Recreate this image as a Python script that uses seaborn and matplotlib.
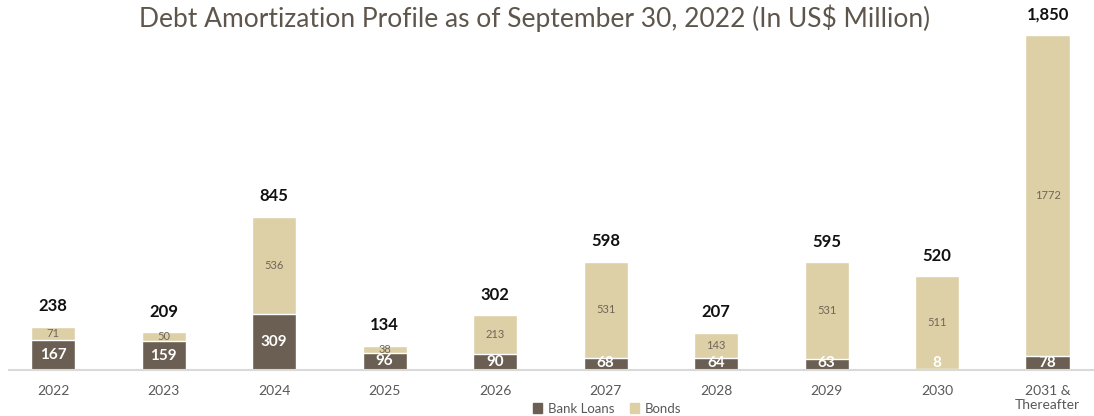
import matplotlib
matplotlib.use("Agg")
import matplotlib.pyplot as plt
import seaborn as sns
import pandas as pd
from matplotlib.patches import Patch

categories = ["2022", "2023", "2024", "2025", "2026", "2027", "2028", "2029", "2030", "2031 &\nThereafter"]
bank_loans = [167, 159, 309, 96, 90, 68, 64, 63, 8, 78]
bonds = [71, 50, 536, 38, 213, 531, 143, 531, 511, 1772]
totals = ["238", "209", "845", "134", "302", "598", "207", "595", "520", "1,850"]

DARK = "#6B5F53"
BEIGE = "#DDD0A7"

sns.set_theme(style="white")
plt.rcParams['font.family'] = ['Lato', 'DejaVu Sans']

df = pd.DataFrame({"cat": categories, "bank": bank_loans, "bonds": bonds})
df["total"] = df["bank"] + df["bonds"]

fig = plt.figure(figsize=(10.94, 4.16), dpi=100)
ax = fig.add_axes([9/1094, 46/416, 1 - 9/1094, 360/416])

sns.barplot(data=df, x="cat", y="total", color=BEIGE, width=0.4, saturation=1, ax=ax)
sns.barplot(data=df, x="cat", y="bank", color=DARK, width=0.4, saturation=1, ax=ax)

ax.set_xlim(-0.40, 9.42)
ax.set_ylim(0, 1988)
for s in ["top", "right", "left"]:
    ax.spines[s].set_visible(False)
ax.spines["bottom"].set_color("#D9D9D9")
ax.spines["bottom"].set_linewidth(1.5)
ax.set_yticks([])
ax.set_xlabel("")
ax.set_ylabel("")
ax.tick_params(axis="x", length=0, pad=11, labelsize=10, labelcolor="#595959")

for i in range(len(categories)):
    b = bank_loans[i]
    bd = bonds[i]
    ax.text(i, max(b / 2, 40), str(b), ha="center", va="center", color="white",
            fontsize=11, fontweight="bold")
    ax.text(i, b + bd / 2, str(bd), ha="center", va="center", color="#6E6556", fontsize=8)
    ax.annotate(totals[i], (i, b + bd), xytext=(0, 9), textcoords="offset points",
                ha="center", va="bottom", fontsize=12, fontweight="bold", color="#111111")

fig.text(0.489, 0.957, "Debt Amortization Profile as of September 30, 2022 (In US$ Million)",
         ha="center", va="center", fontsize=19, color="#5E564C")

handles = [Patch(color=DARK, label="Bank Loans"), Patch(color=BEIGE, label="Bonds")]
leg = fig.legend(handles=handles, loc="center", bbox_to_anchor=(0.555, 0.018), ncol=2,
                 frameon=False, fontsize=9.5, handlelength=0.7, handleheight=0.7,
                 handletextpad=0.4, columnspacing=1.2, labelcolor="#595959")

fig.savefig("out.png", dpi=100)
